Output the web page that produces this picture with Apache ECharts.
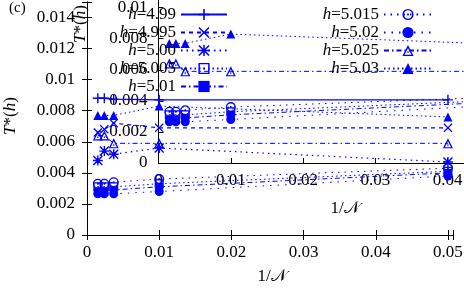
<!DOCTYPE html>
<html><head><meta charset="utf-8">
<script src="https://cdn.jsdelivr.net/npm/echarts@6/dist/echarts.min.js"></script>
<style>html,body{margin:0;padding:0;background:#fff}#c{width:464px;height:288px}</style>
</head><body><div id="c"></div>
<script>
// ---- data ----
const invN = [0.0015, 0.0024, 0.0037, 0.01, 0.05];
const h4990 = [0.0088, 0.0088, 0.00875, 0.0087, 0.0087];
const h4995 = [0.0066, 0.0068, 0.0072, 0.0069, 0.0069];
const h5000 = [0.0048, 0.0054, 0.0052, 0.0056, 0.0047];
const h5005 = [0.0031, 0.0031, 0.0031, 0.0033, 0.0041];
const h5010 = [0.0028, 0.0028, 0.0029, 0.0031, 0.0040];
const h5015 = [0.0033, 0.0033, 0.0034, 0.0036, 0.0043];
const h5020 = [0.00265, 0.00265, 0.00265, 0.0028, 0.0038];
const h5025 = [0.0064, 0.0064, 0.0059, 0.0059, 0.0059];
const h5030 = [0.0077, 0.0077, 0.0077, 0.0083, 0.0076];
const xTicks = [0, 0.01, 0.02, 0.03, 0.04, 0.05];
const yTicks = [0, 0.002, 0.004, 0.006, 0.008, 0.01, 0.012, 0.014];
const X_MAX = 0.0507, Y_MAX = 0.015;

const BLUE = '#0000ff';
const FONT = '"Liberation Serif","DejaVu Serif",serif';
const FS = 17;
const sym = {
  plus: 'path://M4.3,0H5.7V4.3H10V5.7H5.7V10H4.3V5.7H0V4.3H4.3Z',
  cross: 'path://M0,1L1,0L5,4L9,0L10,1L6,5L10,9L9,10L5,6L1,10L0,9L4,5Z',
  star: 'path://M4.3,0H5.7V4.3H10V5.7H5.7V10H4.3V5.7H0V4.3H4.3Z M0,1L1,0L5,4L9,0L10,1L6,5L10,9L9,10L5,6L1,10L0,9L4,5Z',
  osq: 'path://M0,0H10V10H0Z M1.3,1.3V8.7H8.7V1.3Z M4.3,4.3H5.7V5.7H4.3Z',
  ocirc: 'path://M5,0A5,5 0 1,1 5,10A5,5 0 1,1 5,0Z M5,1.3A3.7,3.7 0 1,0 5,8.7A3.7,3.7 0 1,0 5,1.3Z M5,4A1,1 0 1,1 5,6A1,1 0 1,1 5,4Z',
  otri: 'path://M5,0L10,9L0,9Z M5,2.7L1.9,7.9L8.1,7.9Z M4.4,5.4H5.6V6.6H4.4Z'
};
const defs = [
  {name: 'h=4.99',  v: h4990, s: sym.plus,  sz: 10, dash: 'solid', w: 1.4, inset: false},
  {name: 'h=4.995', v: h4995, s: sym.cross, sz: 9,  dash: [4, 4], w: 1.2, inset: false},
  {name: 'h=5.00',  v: h5000, s: sym.star,  sz: 10, dash: [1.5, 4], w: 1.2, inset: false},
  {name: 'h=5.005', v: h5005, s: sym.osq,   sz: 9,  dash: [1.5, 3], w: 1, inset: true},
  {name: 'h=5.01',  v: h5010, s: 'rect',    sz: 8,  dash: [5, 3, 1.5, 3], w: 1, inset: true},
  {name: 'h=5.015', v: h5015, s: sym.ocirc, sz: 10, dash: [1.5, 5], w: 1, inset: true},
  {name: 'h=5.02',  v: h5020, s: 'circle',  sz: 9,  dash: [1.5, 6], w: 1, inset: true},
  {name: 'h=5.025', v: h5025, s: sym.otri,  sz: 10, dash: [5, 3, 1.5, 3], w: 1, inset: true},
  {name: 'h=5.03',  v: h5030, s: 'triangle',sz: 9,  dash: [1.5, 3], w: 1, inset: true}
];
const series = [];
defs.forEach(d => {
  const data = invN.map((x, i) => [x, d.v[i]]);
  const base = {
    type: 'line', name: d.name, data: data, symbol: d.s, symbolSize: d.sz,
    showAllSymbol: true, animation: false,
    lineStyle: {color: BLUE, width: d.w, type: d.dash},
    itemStyle: {color: BLUE, borderWidth: 0}
  };
  series.push(Object.assign({}, base, {xAxisIndex: 0, yAxisIndex: 0}));
  if (d.inset) series.push(Object.assign({}, base, {xAxisIndex: 2, yAxisIndex: 2}));
});

function fmtTick(list) {
  return v => {
    for (const t of list) if (Math.abs(v - t) < 1e-9) return String(t);
    return '';
  };
}
const lineS = {show: true, lineStyle: {color: '#000', width: 1}};
const tickS = {show: true, inside: true, length: 5, lineStyle: {color: '#000', width: 1}};
const lab = (list, margin) => ({show: true, formatter: fmtTick(list), fontFamily: FONT, fontSize: FS, color: '#000', margin: margin});

const xBase = {type: 'value', min: 0, max: X_MAX, interval: 0.01, splitLine: {show: false}, axisLine: lineS, axisTick: tickS};
const yBase = {type: 'value', min: 0, max: Y_MAX, interval: 0.002, splitLine: {show: false}, axisLine: lineS, axisTick: tickS};

const legText = {fontFamily: FONT, fontSize: FS, lineHeight: 17, color: '#000',
  rich: {i: {fontStyle: 'italic', fontFamily: FONT, fontSize: FS, lineHeight: 17}}};
const legFmt = n => '{i|h}' + n.slice(1);
const titleStyle = t => ({text: t, font: FS + 'px ' + FONT, fill: '#000', align: 'center', verticalAlign: 'middle',
  rich: {i: {fontStyle: 'italic', fontSize: FS, fontFamily: FONT}}});

const option = {
  animation: false,
  grid: [
    {left: 87, right: 11, top: 2, bottom: 53, outerBoundsMode: 'none'},
    {left: 158.5, right: -61, top: -70, bottom: 125, outerBoundsMode: 'none'}
  ],
  xAxis: [
    Object.assign({}, xBase, {gridIndex: 0, position: 'bottom', axisLabel: lab(xTicks, 9)}),
    Object.assign({}, xBase, {gridIndex: 0, position: 'top', axisLabel: {show: false}}),
    Object.assign({}, xBase, {gridIndex: 1, position: 'bottom', axisLabel: lab(xTicks, 9)})
  ],
  yAxis: [
    Object.assign({}, yBase, {gridIndex: 0, position: 'left', axisLabel: lab(yTicks, 12)}),
    Object.assign({}, yBase, {gridIndex: 0, position: 'right', axisLabel: {show: false}}),
    Object.assign({}, yBase, {gridIndex: 1, position: 'left', axisLabel: lab(yTicks, 11)})
  ],
  legend: [
    {data: defs.slice(0, 5).map(d => d.name), orient: 'vertical', align: 'right', right: 236, top: 6,
     padding: 0, itemWidth: 46, itemHeight: 14, itemGap: 1, textStyle: legText, formatter: legFmt, selectedMode: false},
    {data: defs.slice(5).map(d => d.name), orient: 'vertical', align: 'right', right: 31, top: 6,
     padding: 0, itemWidth: 48, itemHeight: 14, itemGap: 1, textStyle: legText, formatter: legFmt, selectedMode: false}
  ],
  graphic: [
    {type: 'text', left: 9, top: 1, style: {text: '(c)', font: '15px ' + FONT, fill: '#000'}},
    {type: 'text', x: 11, y: 116, rotation: Math.PI / 2, style: titleStyle('{i|T}*({i|h})')},
    {type: 'text', x: 81, y: 24, rotation: Math.PI / 2, style: titleStyle('{i|T}*({i|h})')},
    {type: 'text', x: 272, y: 277, style: titleStyle('1/𝒩')},
    {type: 'text', x: 345, y: 209, style: titleStyle('1/𝒩')}
  ],
  series: series
};
const chart = echarts.init(document.getElementById('c'), null, {renderer: 'canvas'});
chart.setOption(option);
</script></body></html>
